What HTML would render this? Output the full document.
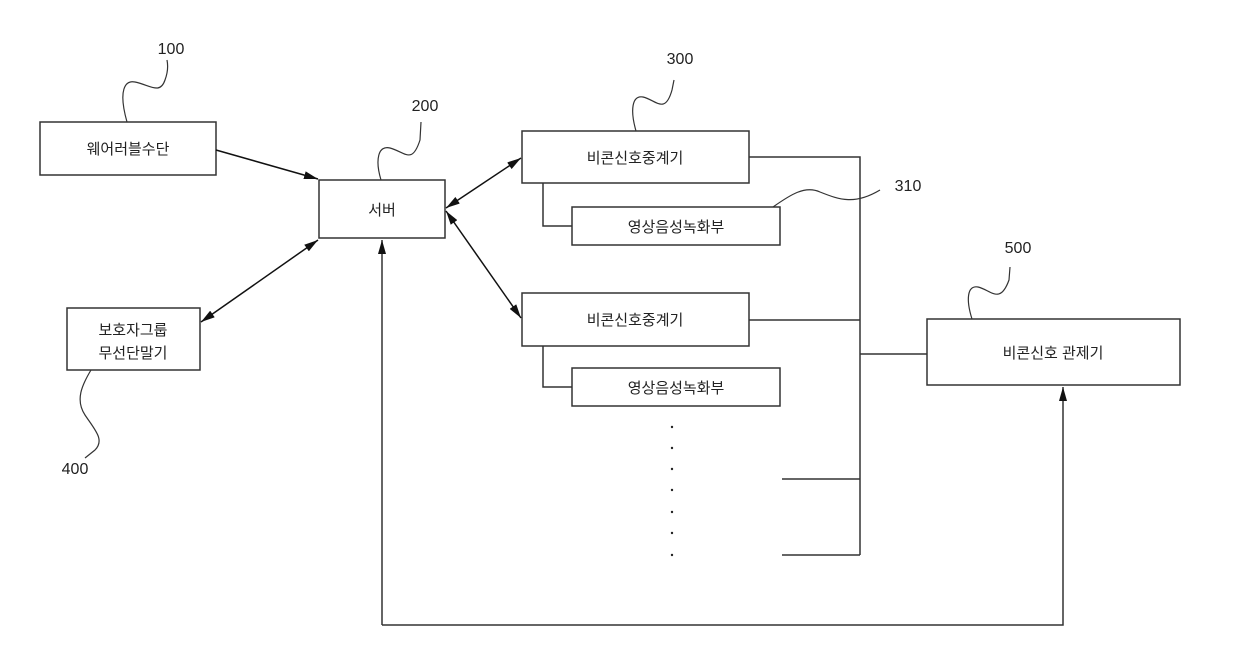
<!DOCTYPE html>
<html><head><meta charset="utf-8"><style>
html,body{margin:0;padding:0;background:#fff}
svg{display:block}
text{font-family:"Liberation Sans","Noto Sans CJK KR",sans-serif;fill:#222}
</style></head><body>
<svg width="1240" height="672" viewBox="0 0 1240 672" xmlns="http://www.w3.org/2000/svg">
<defs>
<marker id="a" markerWidth="14" markerHeight="8" refX="14" refY="4" orient="auto-start-reverse" markerUnits="userSpaceOnUse">
<path d="M0,0 L14,4 L0,8 z" fill="#111"/></marker>
</defs>
<g fill="none" stroke="#333" stroke-width="1.5">
<rect x="40" y="122" width="176" height="53"/>
<rect x="319" y="180" width="126" height="58"/>
<rect x="67" y="308" width="133" height="62"/>
<rect x="522" y="131" width="227" height="52"/>
<rect x="572" y="207" width="208" height="38"/>
<rect x="522" y="293" width="227" height="53"/>
<rect x="572" y="368" width="208" height="38"/>
<rect x="927" y="319" width="253" height="66"/>
<path d="M543,183 V226 H572 M543,346 V387 H572"/>
<path d="M749,157 H860 V555 M749,320 H860 M860,354 H927 M782,479 H860 M782,555 H860"/>
<path d="M382,625 V240" marker-end="url(#a)"/>
<path d="M382,625 H1063 V387" marker-end="url(#a)"/>
<path d="M216,150 L318,179" marker-end="url(#a)" stroke="#111"/>
<path d="M201,322 L318,240" marker-start="url(#a)" marker-end="url(#a)" stroke="#111"/>
<path d="M446,208 L521,158" marker-start="url(#a)" marker-end="url(#a)" stroke="#111"/>
<path d="M446,211 L521,318" marker-start="url(#a)" marker-end="url(#a)" stroke="#111"/>
<!-- leaders -->
<path d="M127,122 C118,90 125,80 135,82 C150,85 160,95 165,80 C168,72 168,65 167,60" stroke-width="1.2"/>
<path d="M381,180 C375,160 378,145 390,148 C405,152 412,165 420,140 L421,122" stroke-width="1.2"/>
<path d="M636,131 C630,110 632,95 643,97 C656,100 665,115 672,90 L674,80" stroke-width="1.2"/>
<path d="M773,207 C790,195 805,185 820,192 C840,200 855,205 880,190" stroke-width="1.2"/>
<path d="M972,319 C966,300 967,285 978,287 C991,290 1000,305 1009,280 L1010,267" stroke-width="1.2"/>
<path d="M91,370 C82,385 75,400 85,415 C95,430 105,440 95,450 L85,458" stroke-width="1.2"/>
</g>
<g fill="#222">
<circle cx="672" cy="427" r="1.2"/><circle cx="672" cy="448" r="1.2"/><circle cx="672" cy="469" r="1.2"/><circle cx="672" cy="490" r="1.2"/><circle cx="672" cy="512" r="1.2"/><circle cx="672" cy="533" r="1.2"/><circle cx="672" cy="555" r="1.2"/>
</g>
<g font-size="15" text-anchor="middle">
<text x="128" y="154">웨어러블수단</text>
<text x="382" y="215">서버</text>
<text x="133" y="335">보호자그룹</text>
<text x="133" y="358">무선단말기</text>
<text x="635" y="163">비콘신호중계기</text>
<text x="676" y="232">영상음성녹화부</text>
<text x="635" y="325">비콘신호중계기</text>
<text x="676" y="393">영상음성녹화부</text>
<text x="1053" y="358">비콘신호 관제기</text>
</g>
<g font-size="16" text-anchor="middle">
<text x="171" y="54">100</text>
<text x="425" y="111">200</text>
<text x="680" y="64">300</text>
<text x="908" y="191">310</text>
<text x="1018" y="253">500</text>
<text x="75" y="474">400</text>
</g>
</svg>
</body></html>
